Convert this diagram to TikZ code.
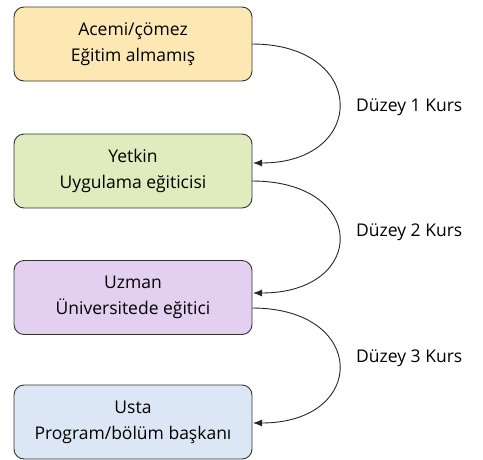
\documentclass[tikz,border=0pt]{standalone}
\usepackage{fontspec}
\setmainfont{Open Sans}
\usetikzlibrary{arrows.meta}
\begin{document}
\begin{tikzpicture}[x=1pt,y=-1pt,
  box/.style={draw=black!80, line width=0.9pt, rounded corners=10pt, minimum width=238pt, minimum height=74pt, align=center, font=\fontsize{17.5}{26}\selectfont, inner sep=0pt},
  conn/.style={draw=black!85, line width=0.9pt, -{Latex[length=9pt,width=7pt]}},
  lbl/.style={anchor=west, font=\fontsize{17.5}{20}\selectfont, inner sep=0pt}]
\useasboundingbox (0,0) rectangle (483,459);
\definecolor{c1}{HTML}{FDE8B4}
\definecolor{c2}{HTML}{E0EBBE}
\definecolor{c3}{HTML}{E3CFEF}
\definecolor{c4}{HTML}{DCE7F5}
\node[box, fill=c1] (a) at (133,44) {Acemi/çömez\\Eğitim almamış};
\node[box, fill=c2] (b) at (133,171) {Yetkin\\Uygulama eğiticisi};
\node[box, fill=c3] (c) at (133,297.5) {Uzman\\Üniversitede eğitici};
\node[box, fill=c4] (d) at (133,422) {Usta\\Program/bölüm başkanı};
\coordinate (a1) at (252,44);
\coordinate (b0) at (253,163);
\coordinate (b1) at (252,181);
\coordinate (c0) at (253,293);
\coordinate (c1) at (252,308);
\coordinate (d0) at (253,423);
\draw[conn] (a1) .. controls (368,44) and (368,163) .. (b0);
\draw[conn] (b1) .. controls (368,181) and (368,293) .. (c0);
\draw[conn] (c1) .. controls (368,308) and (368,423) .. (d0);
\node[lbl] (l1) at (356,107) {Düzey 1 Kurs};
\node[lbl] (l2) at (356,232) {Düzey 2 Kurs};
\node[lbl] (l3) at (356,358) {Düzey 3 Kurs};
\end{tikzpicture}
\end{document}
